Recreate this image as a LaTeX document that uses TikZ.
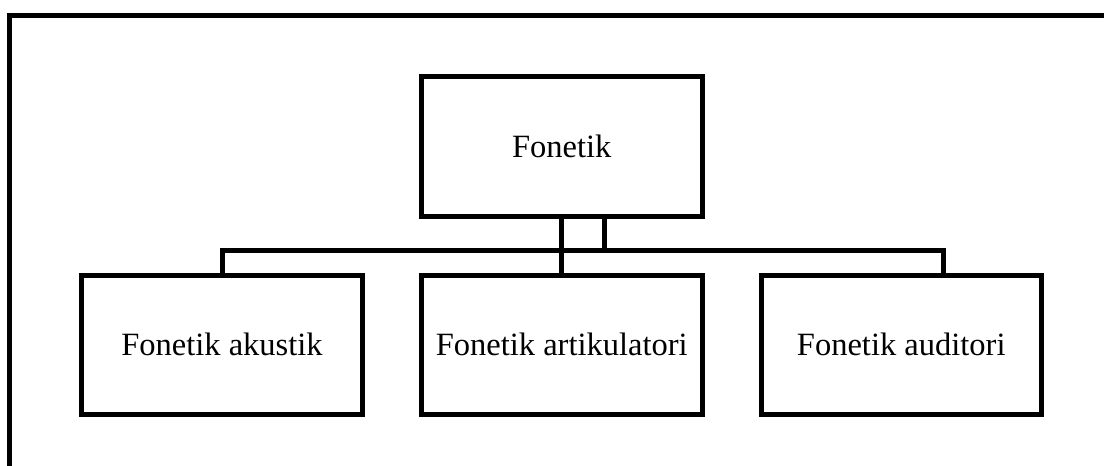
\documentclass[tikz,border=0pt]{standalone}
\usepackage{fontspec}
\setmainfont{Liberation Serif}
\begin{document}
\begin{tikzpicture}[x=1pt,y=-1pt,
  box/.style={draw,line width=5pt,minimum width=280.5pt,minimum height=138.5pt,inner sep=0pt,
    font=\fontsize{32.5}{39}\selectfont,text=black},
  topbox/.style={box,minimum height=140pt},
  link/.style={draw,line width=5pt}]
\useasboundingbox (0,0) rectangle (1104,466);
\fill[white] (0,0) rectangle (1104,466);
\draw[line width=5pt] (1106,15.5) -- (9.5,15.5) -- (9.5,468);
\node[topbox] (fon) at (561.75,146.5) {Fonetik};
\node[box] (akus) at (222,344.75) {Fonetik akustik};
\node[box] (arti) at (561.75,344.75) {Fonetik artikulatori};
\node[box] (audi) at (901.25,344.75) {Fonetik auditori};
\coordinate (bus) at (604,250);
\draw[link] (fon.south) -- (arti.north);
\draw[link] ([xshift=42.25pt]fon.south) -- (bus);
\draw[link] (bus) -| ([yshift=-4pt]akus.north);
\draw[link] (bus) -| ([xshift=41.75pt,yshift=-4pt]audi.north);
\end{tikzpicture}
\end{document}
